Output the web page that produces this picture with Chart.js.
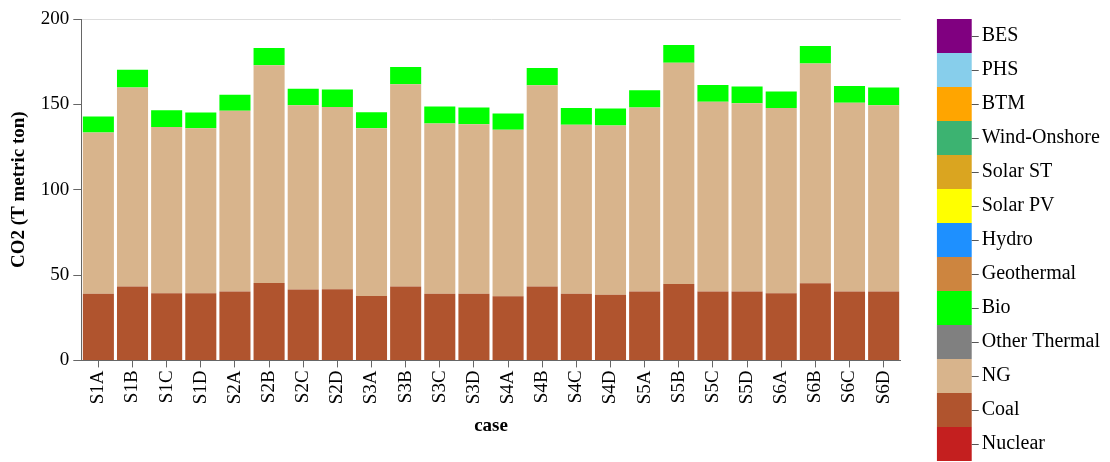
<html>
<head>
<meta charset="utf-8"/>
<style>
  body { margin: 0; background: #fff; }
</style>
</head>
<body>
<canvas id="co2Chart" width="1110" height="462"></canvas>

<script src="https://cdn.jsdelivr.net/npm/chart.js"></script>
<script>
  var cases = ["S1A", "S1B", "S1C", "S1D", "S2A", "S2B", "S2C", "S2D",
               "S3A", "S3B", "S3C", "S3D", "S4A", "S4B", "S4C", "S4D",
               "S5A", "S5B", "S5C", "S5D", "S6A", "S6B", "S6C", "S6D"];

  // CO2 by technology, T metric ton
  var coal = [39.0, 43.3, 39.4, 39.4, 40.4, 45.4, 41.5, 41.7,
              37.8, 43.3, 39.0, 39.0, 37.6, 43.3, 39.0, 38.4,
              40.4, 44.8, 40.4, 40.4, 39.4, 45.2, 40.4, 40.4];
  var ng = [94.5, 116.5, 97.4, 96.6, 105.8, 127.5, 108.0, 106.8,
            98.2, 118.5, 99.8, 99.4, 97.5, 117.9, 99.0, 99.2,
            107.7, 129.5, 111.1, 110.3, 108.4, 128.7, 110.6, 109.1];
  var bio = [9.4, 10.4, 9.8, 9.2, 9.4, 10.1, 9.7, 10.2,
             9.4, 10.1, 9.9, 9.7, 9.5, 10.1, 9.9, 9.9,
             10.2, 10.5, 9.9, 9.7, 9.7, 10.3, 9.8, 10.3];
  // technologies with no emissions
  var zero = [0, 0, 0, 0, 0, 0, 0, 0, 0, 0, 0, 0,
              0, 0, 0, 0, 0, 0, 0, 0, 0, 0, 0, 0];

  var yTicks = [0, 50, 100, 150, 200];

  // bottom of the stack first
  var techs = ["Nuclear", "Coal", "NG", "Other Thermal", "Bio", "Geothermal",
               "Hydro", "Solar PV", "Solar ST", "Wind-Onshore", "BTM", "PHS", "BES"];
  var techData = [zero, coal, ng, zero, bio, zero, zero, zero, zero, zero, zero, zero, zero];
  var techColors = ["#c41f1f", "#b0542e", "#d8b48c", "#808080", "#00ff00", "#cd853f",
                    "#1e90ff", "#ffff00", "#daa520", "#3cb371", "#ffa500", "#87ceeb", "#800080"];

  var serif = "'Liberation Serif', 'Times New Roman', serif";

  var datasets = techs.map(function (name, i) {
    return {
      label: name,
      data: techData[i],
      backgroundColor: techColors[i],
      borderColor: techColors[i],
      borderWidth: 0,
      barPercentage: 0.91,
      categoryPercentage: 1.0
    };
  });

  // little dashes between the colour boxes and their names
  var legendTicks = {
    id: "legendTicks",
    afterDraw: function (chart) {
      var boxes = chart.legend.legendHitBoxes;
      var c = chart.ctx;
      c.save();
      c.strokeStyle = "#555";
      c.lineWidth = 1;
      boxes.forEach(function (b) {
        var y = Math.round(b.top + b.height / 2) + 0.5;
        c.beginPath();
        c.moveTo(b.left + 35, y);
        c.lineTo(b.left + 42, y);
        c.stroke();
      });
      c.restore();
    }
  };

  new Chart(document.getElementById("co2Chart"), {
    type: "bar",
    data: { labels: cases, datasets: datasets },
    plugins: [legendTicks],
    options: {
      responsive: false,
      animation: false,
      layout: { padding: { left: 8, right: 0, top: 19, bottom: 0 } },
      plugins: {
        tooltip: { enabled: false },
        legend: {
          position: "right",
          align: "start",
          reverse: true,
          labels: {
            boxWidth: 35,
            boxHeight: 34,
            padding: 0,
            color: "#000",
            font: { family: serif, size: 20 }
          }
        }
      },
      scales: {
        x: {
          stacked: true,
          border: { color: "#666" },
          grid: {
            offset: false,
            drawOnChartArea: false,
            tickLength: 7,
            tickColor: "#666"
          },
          ticks: {
            color: "#000",
            minRotation: 90,
            maxRotation: 90,
            padding: 3,
            font: { family: serif, size: 19 }
          },
          title: {
            display: true,
            text: "case",
            color: "#000",
            padding: { top: 7, bottom: 25 },
            font: { family: serif, size: 19, weight: "bold" }
          }
        },
        y: {
          stacked: true,
          min: 0,
          max: 200,
          afterBuildTicks: function (scale) {
            scale.ticks = yTicks.map(function (v) { return { value: v }; });
          },
          border: { color: "#666" },
          grid: {
            color: function (ctx) { return ctx.tick && ctx.tick.value === 200 ? "#ddd" : "rgba(0,0,0,0)"; },
            tickColor: "#666",
            tickLength: 8
          },
          ticks: {
            color: "#000",
            padding: 4,
            font: { family: serif, size: 19 }
          },
          title: {
            display: true,
            text: "CO2 (T metric ton)",
            color: "#000",
            padding: { top: 0, bottom: 6 },
            font: { family: serif, size: 19, weight: "bold" }
          }
        },
        // spacer between the plot and the colour legend
        gap: {
          type: "linear",
          position: "right",
          display: true,
          grid: { display: false },
          border: { display: false },
          ticks: { display: false },
          afterFit: function (scale) { scale.width = 36; }
        }
      }
    }
  });
</script>
</body>
</html>
